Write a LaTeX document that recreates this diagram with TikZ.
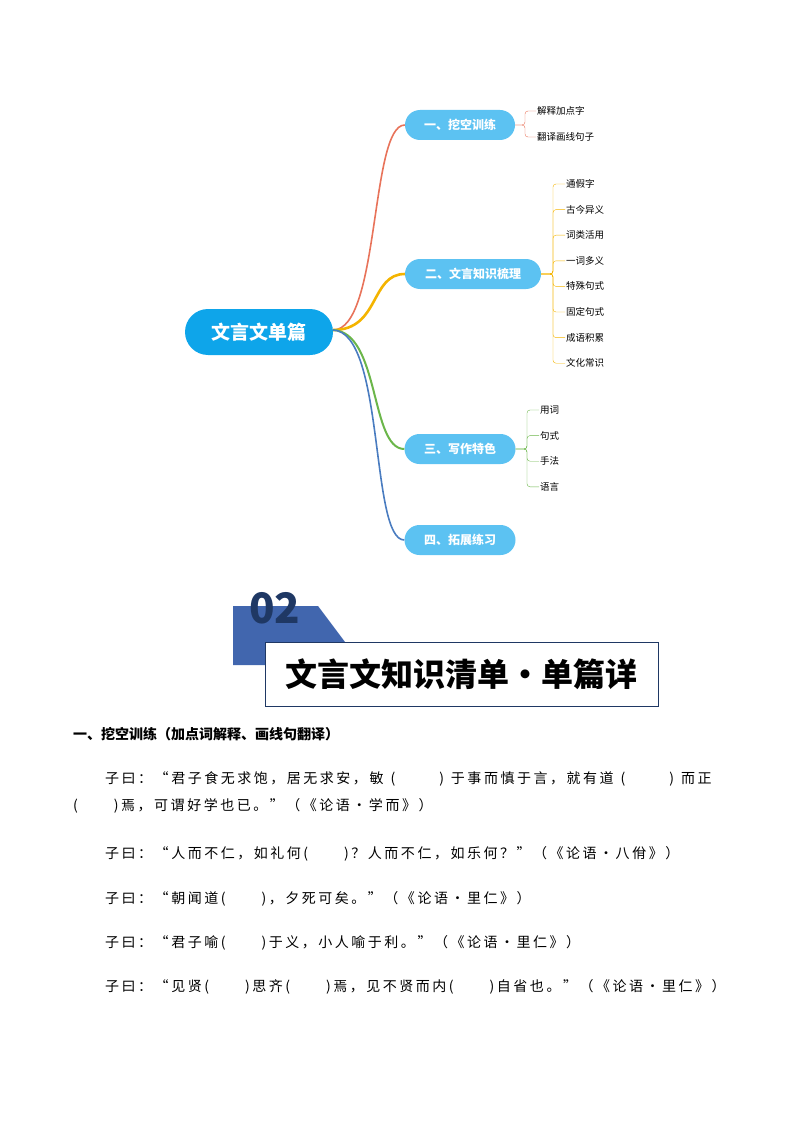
\documentclass[tikz,border=0pt]{standalone}
\usepackage{fontspec}
\setmainfont{Noto Sans CJK SC}
\newfontfamily\spaced[LetterSpace=18]{Noto Sans CJK SC}
\usetikzlibrary{positioning}
\definecolor{rootblue}{HTML}{0EA5EA}
\definecolor{branchblue}{HTML}{5CC2F2}
\definecolor{linered}{HTML}{E8735A}
\definecolor{lineorange}{HTML}{F4B400}
\definecolor{linegreen}{HTML}{6BB64A}
\definecolor{lineblue}{HTML}{4A7CC0}
\definecolor{bannerblue}{HTML}{4166AE}
\definecolor{navy}{HTML}{1F3864}
\def\blank#1{(\hspace*{#1pt})}
\begin{document}
\begin{tikzpicture}[x=1pt,y=-1pt,
              rootbox/.style = {shape=rectangle, rounded corners=23pt, fill=rootblue,
                text=white, font=\fontsize{19}{19}\selectfont\bfseries,
                minimum width=148pt, minimum height=46pt},
              branchbox/.style = {shape=rectangle, rounded corners=15pt, fill=branchblue,
                text=white, font=\fontsize{12}{12}\selectfont\bfseries,
                minimum height=30pt, inner xsep=14pt},
              leaf/.style = {anchor=west, inner sep=1pt, font=\fontsize{9.5}{9.5}\selectfont},
              line/.style = {anchor=west, inner sep=0pt, font=\spaced\fontsize{14}{14}\selectfont}]
\useasboundingbox (0,0) rectangle (794,1123);
% mind map
\node[rootbox] (root) at (259,332) {文言文单篇};
\node[branchbox, minimum width=110pt] (b1) at (460,125) {一、挖空训练};
\node[branchbox, minimum width=136pt] (b2) at (473,274) {二、文言知识梳理};
\node[branchbox, minimum width=111pt] (b3) at (460,449) {三、写作特色};
\node[branchbox, minimum width=111pt] (b4) at (460,540) {四、拓展练习};
\coordinate (hub) at (333,330);
\draw[linered, line width=1.6pt] (hub) .. controls (380,330) and (370,125) .. (b1.west);
\draw[lineorange, line width=2.6pt] (hub) .. controls (380,330) and (370,274) .. (b2.west);
\draw[linegreen, line width=2pt] (hub) .. controls (380,332) and (370,449) .. (b3.west);
\draw[lineblue, line width=1.6pt] (hub) .. controls (385,332) and (370,540) .. (b4.west);
% leaves
\node[leaf] (l11) at (536,111) {解释加点字};
\node[leaf] (l12) at (536,137) {翻译画线句子};
\foreach \n in {l11,l12}
  \draw[linered, rounded corners=3pt] (b1.east) -- (525,125) |- (\n.west);
\foreach \t [count=\i] in {通假字,古今异义,词类活用,一词多义,特殊句式,固定句式,成语积累,文化常识}
  \node[leaf] (l2\i) at (565,{184+25.6*(\i-1)}) {\t};
\foreach \i in {1,...,8}
  \draw[lineorange, rounded corners=3pt] (b2.east) -- (553,274) |- (l2\i.west);
\foreach \t [count=\i] in {用词,句式,手法,语言}
  \node[leaf] (l3\i) at (539,{410+25.6*(\i-1)}) {\t};
\foreach \i in {1,...,4}
  \draw[linegreen, rounded corners=3pt] (b3.east) -- (527,449) |- (l3\i.west);
% banner
\fill[bannerblue] (233,606) -- (318,606) -- (345,642) -- (265,642) -- (265,665) -- (233,665) -- cycle;
\node[anchor=north west, inner sep=0pt, text=navy, font=\fontsize{42}{42}\selectfont\bfseries] (num) at (249,592) {02};
\node[draw=navy, fill=white, line width=0.8pt, minimum width=393pt, minimum height=64pt,
      font=\fontsize{32}{32}\selectfont\bfseries] (title) at (461.5,674) {文言文知识清单·单篇详};
% text
\node[line, font=\fontsize{14}{14}\selectfont\bfseries] (head) at (73,734) {一、挖空训练（加点词解释、画线句翻译）};
\node[line] (p1) at (105,779) {子曰：“君子食无求饱，居无求安，敏\enspace\blank{44}\enspace 于事而慎于言，就有道\enspace\blank{44}\enspace 而正};
\node[line] (p1b) at (73,806) {\blank{36}焉，可谓好学也已。”（《论语·学而》）};
\node[line] (p2) at (105,854) {子曰：“人而不仁，如礼何\blank{36}？人而不仁，如乐何？”（《论语·八佾》）};
\node[line] (p3) at (105,899) {子曰：“朝闻道\blank{36}，夕死可矣。”（《论语·里仁》）};
\node[line] (p4) at (105,943) {子曰：“君子喻\blank{36}于义，小人喻于利。”（《论语·里仁》）};
\node[line] (p5) at (105,987) {子曰：“见贤\blank{36}思齐\blank{36}焉，见不贤而内\blank{36}自省也。”（《论语·里仁》）};
\end{tikzpicture}
\end{document}
